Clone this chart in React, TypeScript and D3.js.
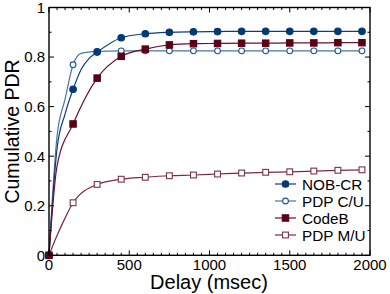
import React from "react";
import * as d3 from "d3";

const markerDelays = [0, 150, 300, 450, 600, 750, 900, 1050, 1200, 1350, 1500, 1650, 1800, 1950];

const nobcrValues = [0, 0.670, 0.820, 0.878, 0.894, 0.900, 0.902, 0.903, 0.904, 0.904, 0.904, 0.904, 0.904, 0.904];
const pdpcuValues = [0, 0.769, 0.823, 0.825, 0.825, 0.825, 0.825, 0.825, 0.825, 0.825, 0.825, 0.825, 0.825, 0.825];
const codebValues = [0, 0.530, 0.715, 0.803, 0.832, 0.849, 0.854, 0.855, 0.856, 0.856, 0.857, 0.857, 0.858, 0.858];
const pdpmuValues = [0, 0.212, 0.286, 0.307, 0.315, 0.321, 0.324, 0.328, 0.332, 0.335, 0.337, 0.340, 0.343, 0.345];

// extra unmarked points of the drawn lines (delay, value)
const nobcrExtra: [number, number][] = [[50, 0.43], [100, 0.57], [200, 0.75], [250, 0.795]];
const pdpcuExtra: [number, number][] = [[50, 0.48], [100, 0.63], [200, 0.815]];
const codebExtra: [number, number][] = [[50, 0.36]];
const pdpmuExtra: [number, number][] = [[50, 0.08], [100, 0.15]];

const xTicks = [0, 500, 1000, 1500, 2000];
const yTicks = [0, 0.2, 0.4, 0.6, 0.8, 1];
const yTickLabels = ["0", "0.2", "0.4", "0.6", "0.8", "1"];

const seriesNames = ["NOB-CR", "PDP C/U", "CodeB", "PDP M/U"];

const W = 390, H = 294;
const x = d3.scaleLinear().domain([0, 2000]).range([49, 370]);
const y = d3.scaleLinear().domain([0, 1]).range([255.3, 7.5]);

type Series = {
  name: string;
  values: number[];
  extra: [number, number][];
  line: string;
  stroke: string;
  fill: string;
  shape: "circle" | "square";
};

const series: Series[] = [
  { name: seriesNames[0], values: nobcrValues, extra: nobcrExtra, line: "#0b3f78", stroke: "#003a75", fill: "#003a75", shape: "circle" },
  { name: seriesNames[1], values: pdpcuValues, extra: pdpcuExtra, line: "#4a76a6", stroke: "#1d5894", fill: "#ffffff", shape: "circle" },
  { name: seriesNames[2], values: codebValues, extra: codebExtra, line: "#6a1030", stroke: "#5a0019", fill: "#5a0019", shape: "square" },
  { name: seriesNames[3], values: pdpmuValues, extra: pdpmuExtra, line: "#7a2a44", stroke: "#7a3348", fill: "#ffffff", shape: "square" },
];

const drawOrder = [3, 1, 0, 2];

const font = "'Liberation Sans', Arial, Helvetica, sans-serif";

function Marker({ cx, cy, s }: { cx: number; cy: number; s: Series }) {
  if (s.shape === "circle") {
    return <circle cx={cx} cy={cy} r={s.fill === "#ffffff" ? 2.9 : 3.3} fill={s.fill} stroke={s.stroke} strokeWidth={1.1} />;
  }
  const h = s.fill === "#ffffff" ? 2.9 : 3.2;
  return <rect x={cx - h} y={cy - h} width={2 * h} height={2 * h} fill={s.fill} stroke={s.stroke} strokeWidth={1.1} />;
}

export default function App() {
  const lineGen = d3
    .line<[number, number]>()
    .x((d) => x(d[0]))
    .y((d) => y(d[1]))
    .curve(d3.curveMonotoneX);

  const minorX = d3.range(0, 2001, 50).filter((v) => v % 500 !== 0);
  const minorY = d3.range(0, 11, 1).map((v) => v / 10).filter((v, i) => i % 2 === 1);

  const [x0, x1] = x.range();
  const [y0, y1] = y.range();
  const major = 5;
  const minor = 2.5;

  return (
    <svg width={W} height={H} style={{ position: "absolute", left: 0, top: 0, background: "#fff" }} fontFamily={font}>
      <rect x={0} y={0} width={W} height={H} fill="#fff" />
      {/* lines */}
      {drawOrder.map((i) => {
        const s = series[i];
        const pts: [number, number][] = markerDelays.map((d, k) => [d, s.values[k]] as [number, number]);
        const all = pts.concat(s.extra).sort((a, b) => a[0] - b[0]);
        return <path key={"l" + i} d={lineGen(all) || ""} fill="none" stroke={s.line} strokeWidth={1.2} />;
      })}
      {/* markers */}
      {drawOrder.map((i) => {
        const s = series[i];
        return (
          <g key={"m" + i}>
            {markerDelays.map((d, k) => (
              <Marker key={k} cx={x(d)} cy={y(s.values[k])} s={s} />
            ))}
          </g>
        );
      })}
      {/* ticks */}
      <g stroke="#000" strokeWidth={1}>
        {xTicks.map((t) => (
          <g key={"xt" + t}>
            <line x1={x(t)} x2={x(t)} y1={y0} y2={y0 - major} />
            <line x1={x(t)} x2={x(t)} y1={y1} y2={y1 + major} />
          </g>
        ))}
        {minorX.map((t) => (
          <g key={"xm" + t}>
            <line x1={x(t)} x2={x(t)} y1={y0} y2={y0 - minor} />
            <line x1={x(t)} x2={x(t)} y1={y1} y2={y1 + minor} />
          </g>
        ))}
        {yTicks.map((t) => (
          <g key={"yt" + t}>
            <line x1={x0} x2={x0 + major} y1={y(t)} y2={y(t)} />
            <line x1={x1} x2={x1 - major} y1={y(t)} y2={y(t)} />
          </g>
        ))}
        {minorY.map((t) => (
          <g key={"ym" + t}>
            <line x1={x0} x2={x0 + minor} y1={y(t)} y2={y(t)} />
            <line x1={x1} x2={x1 - minor} y1={y(t)} y2={y(t)} />
          </g>
        ))}
      </g>
      {/* frame */}
      <rect x={x0} y={y1} width={x1 - x0} height={y0 - y1} fill="none" stroke="#000" strokeWidth={1.4} />
      {/* tick labels */}
      <g fontSize={15} fill="#000">
        {xTicks.map((t) => (
          <text key={"xl" + t} x={x(t)} y={269.5} textAnchor="middle">
            {String(t)}
          </text>
        ))}
        {yTicks.map((t, i) => (
          <text key={"yl" + t} x={45} y={y(t)} dy="0.36em" textAnchor="end">
            {yTickLabels[i]}
          </text>
        ))}
      </g>
      {/* axis labels */}
      <text x={209} y={289} fontSize={20} textAnchor="middle" fill="#000">
        Delay (msec)
      </text>
      <text transform="translate(19,131.5) rotate(-90)" fontSize={19.5} textAnchor="middle" fill="#000">
        Cumulative PDR
      </text>
      {/* legend */}
      {series.map((s, i) => {
        const cy = 184 + i * 17;
        return (
          <g key={"lg" + i}>
            <line x1={275} x2={296} y1={cy} y2={cy} stroke={s.line} strokeWidth={1.2} />
            <Marker cx={285.5} cy={cy} s={s} />
            <text x={302} y={cy} dy="0.36em" fontSize={15.3} fill="#000">
              {s.name}
            </text>
          </g>
        );
      })}
    </svg>
  );
}
